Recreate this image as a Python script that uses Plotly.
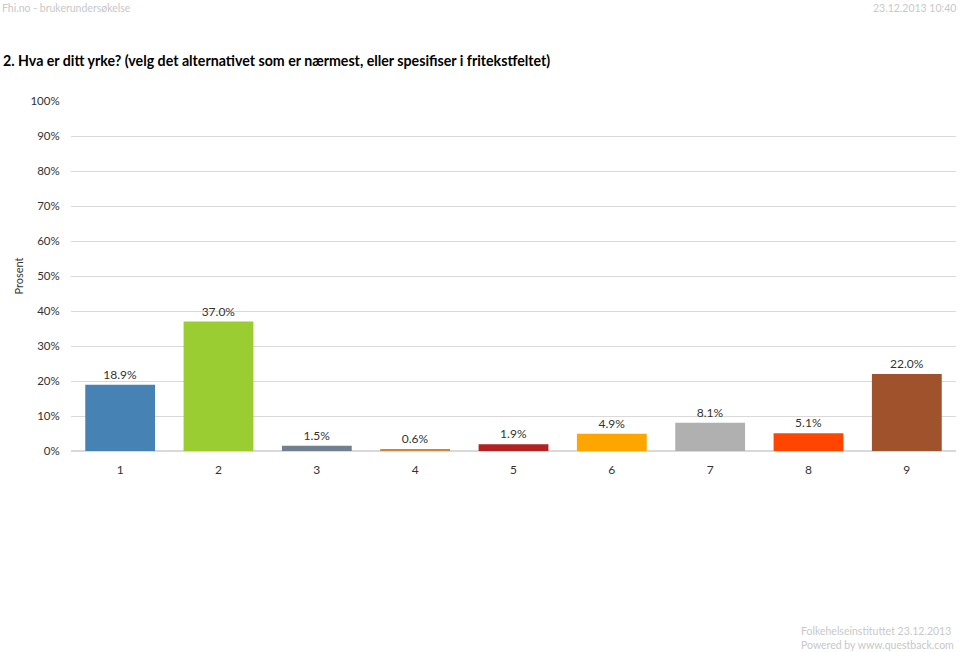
import plotly.graph_objects as go

categories = ["1", "2", "3", "4", "5", "6", "7", "8", "9"]
values = [18.9, 37.0, 1.5, 0.6, 1.9, 4.9, 8.1, 5.1, 22.0]
labels = ["18.9%", "37.0%", "1.5%", "0.6%", "1.9%", "4.9%", "8.1%", "5.1%", "22.0%"]
colors = ["#4682B4", "#9ACD32", "#708090", "#CD853F", "#B22222", "#FFA500", "#B0B0B0", "#FF4500", "#A0522D"]
y_ticks = [0, 10, 20, 30, 40, 50, 60, 70, 80, 90, 100]
y_tick_labels = [f"{v}%" for v in y_ticks]

title = "2. Hva er ditt yrke? (velg det alternativet som er nærmest, eller spesifiser i fritekstfeltet)"

fig = go.Figure(go.Bar(
    x=categories, y=values, marker_color=colors, marker_line_width=0,
    text=labels, textposition="outside", cliponaxis=False,
    textfont=dict(family="Lato", size=12, color="#333333"),
))

fig.update_layout(
    width=960, height=652,
    margin=dict(l=71, r=4, t=101, b=201),
    plot_bgcolor="white", paper_bgcolor="white",
    bargap=0.29, showlegend=False,
    font=dict(family="Lato", size=12, color="#333333"),
    xaxis=dict(showgrid=False, showline=False, ticks="outside", ticklen=8, tickcolor="white",
               tickfont=dict(size=12, color="#333333")),
    yaxis=dict(range=[0, 100], tickvals=y_ticks, ticktext=y_tick_labels,
               gridcolor="#D9D9D9", gridwidth=1, zeroline=True, zerolinecolor="#D9D9D9",
               ticks="outside", ticklen=8, tickcolor="white",
               tickfont=dict(size=11.5, color="#333333"),
               title=dict(text="Prosent", font=dict(family="Lato", size=11, color="#333333"), standoff=4)),
    annotations=[
        dict(text="Fhi.no - brukerundersøkelse", x=0, y=1, xref="paper", yref="paper", showarrow=False,
             xanchor="left", yanchor="top", font=dict(family="Lato", size=10.5, color="#C8C8C8"),
             xshift=-71, yshift=101),
        dict(text="23.12.2013 10:40", x=1, y=1, xref="paper", yref="paper", showarrow=False,
             xanchor="right", yanchor="top", font=dict(family="Lato", size=10.5, color="#C8C8C8"),
             xshift=2, yshift=101),
        dict(text="<b>" + title + "</b>", x=0, y=1, xref="paper", yref="paper", showarrow=False,
             xanchor="left", yanchor="top", font=dict(family="Lato", size=14.2, color="#000000"),
             xshift=-70, yshift=51),
        dict(text="Folkehelseinstituttet 23.12.2013<br>Powered by www.questback.com", x=1, y=0,
             xref="paper", yref="paper", showarrow=False, xanchor="right", yanchor="top", align="left",
             font=dict(family="Lato", size=10.5, color="#C8C8C8"), xshift=0, yshift=-172),
    ],
)

fig.write_html("out.html", config={"displayModeBar": False},
               post_script="document.body.style.margin='0';document.body.style.overflow='hidden';")
